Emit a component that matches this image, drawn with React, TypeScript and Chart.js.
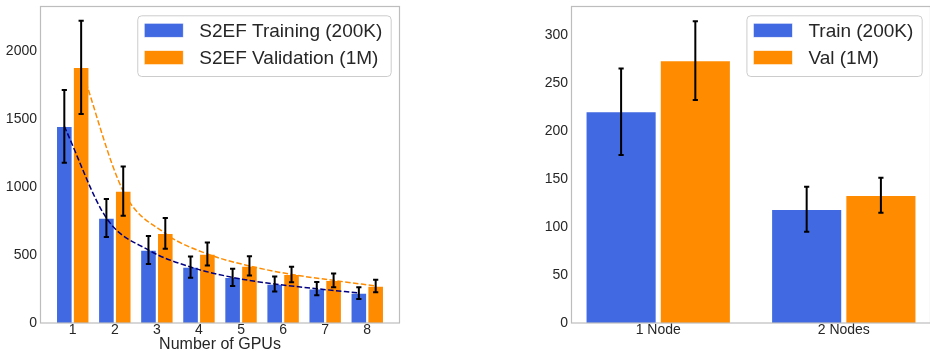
import React, { useEffect, useRef } from "react";
import { Chart, registerables } from "chart.js";

Chart.register(...registerables);

// ---- data: left panel (S2EF throughput vs number of GPUs)
const gpus = [1, 2, 3, 4, 5, 6, 7, 8];
const trainVals = [1444, 771, 536, 411, 335, 286, 252, 220];
const trainErr = [267, 140, 103, 78, 64, 55, 49, 43];
const valVals = [1877, 969, 658, 507, 419, 357, 313, 272];
const valErr = [343, 181, 113, 85, 71, 57, 50, 46];
const leftYTicks = [0, 500, 1000, 1500, 2000];
const leftLegend = ["S2EF Training (200K)", "S2EF Validation (1M)"];
const leftXTitle = "Number of GPUs";

// ---- data: right panel (nodes)
const nodePos = [1, 2];
const nodeLabels = ["1 Node", "2 Nodes"];
const nodeTrainVals = [220, 118.4];
const nodeTrainErr = [45, 23.5];
const nodeValVals = [273.2, 133];
const nodeValErr = [41, 18.3];
const rightYTicks = [0, 50, 100, 150, 200, 250, 300];
const rightLegend = ["Train (200K)", "Val (1M)"];

const BLUE = "#4169E1";
const ORANGE = "#FF8C00";
const NAVY = "#000080";
const TEXT = "#262626";
const SPINE = "#bdbdbd";
const FONT = "'Liberation Sans', Arial, sans-serif";
const GROUP = 0.8; // fraction of a unit used by a pair of bars
const BAR_OFFSET = GROUP / 4; // center offset of each bar within a pair

const framePlugin = {
  id: "frame",
  afterDatasetsDraw(chart: any) {
    const { ctx, chartArea: a } = chart;
    ctx.save();
    ctx.strokeStyle = SPINE;
    ctx.lineWidth = 1.2;
    ctx.strokeRect(a.left + 0.5, a.top + 0.5, a.right - a.left - 1, a.bottom - a.top - 0.5);
    ctx.restore();
  },
};

const errorBarPlugin = {
  id: "errorBars",
  afterDatasetsDraw(chart: any) {
    const { ctx } = chart;
    const ys = chart.scales.y;
    chart.data.datasets.forEach((ds: any, di: number) => {
      if (!ds.errors) return;
      const meta = chart.getDatasetMeta(di);
      meta.data.forEach((el: any, i: number) => {
        const v = ds.data[i].y;
        const e = ds.errors[i];
        const x = el.x;
        const yTop = ys.getPixelForValue(v + e);
        const yBot = ys.getPixelForValue(v - e);
        ctx.save();
        ctx.strokeStyle = "#000";
        ctx.lineWidth = 2;
        ctx.beginPath();
        ctx.moveTo(x, yBot);
        ctx.lineTo(x, yTop);
        ctx.moveTo(x - 2.6, yBot);
        ctx.lineTo(x + 2.6, yBot);
        ctx.moveTo(x - 2.6, yTop);
        ctx.lineTo(x + 2.6, yTop);
        ctx.stroke();
        ctx.restore();
      });
    });
  },
};

const boxLegendPlugin = {
  id: "boxLegend",
  afterDraw(chart: any, _args: any, opts: any) {
    const { ctx, chartArea: a } = chart;
    const labels: string[] = opts.labels || [];
    const colors: string[] = opts.colors || [];
    ctx.save();
    ctx.font = `19px ${FONT}`;
    const maxW = Math.max(...labels.map((t) => ctx.measureText(t).width));
    const w = 7 + 39 + 16 + maxW + 8.4;
    const h = 60.7;
    const right = a.right - 9.3;
    const left = right - w;
    const top = a.top + 9.3;
    ctx.beginPath();
    ctx.roundRect(left + 0.5, top + 0.5, w, h, 4);
    ctx.fillStyle = "rgba(255,255,255,0.8)";
    ctx.fill();
    ctx.strokeStyle = "#cccccc";
    ctx.lineWidth = 1;
    ctx.stroke();
    labels.forEach((t, i) => {
      const cy = top + 15 + i * 27.3;
      ctx.fillStyle = colors[i];
      ctx.fillRect(left + 7, cy - 7, 39, 14);
      ctx.strokeStyle = "rgba(255,255,255,0.8)";
      ctx.lineWidth = 0.7;
      ctx.strokeRect(left + 7, cy - 7, 39, 14);
      ctx.fillStyle = TEXT;
      ctx.textBaseline = "middle";
      ctx.textAlign = "left";
      ctx.fillText(t, left + 7 + 39 + 16, cy + 1);
    });
    ctx.restore();
  },
};

function barDs(label: string, xs: number[], vals: number[], errs: number[], color: string) {
  return {
    type: "bar",
    label,
    data: xs.map((x, i) => ({ x, y: vals[i] })),
    backgroundColor: color,
    borderColor: "rgba(255,255,255,0.85)",
    borderWidth: 0.7,
    categoryPercentage: GROUP,
    barPercentage: 0.95,
    errors: errs,
    order: 1,
  };
}

function lineDs(xs: number[], vals: number[], offset: number, color: string) {
  return {
    type: "line",
    data: xs.map((x, i) => ({ x: x + offset, y: vals[i] })),
    borderColor: color,
    borderWidth: 1.5,
    borderDash: [5.5, 2.4],
    pointRadius: 0,
    fill: false,
    cubicInterpolationMode: "monotone",
    order: 0,
  };
}

function yScale(max: number, ticks: number[]) {
  return {
    type: "linear",
    min: 0,
    max,
    grid: { display: false, drawTicks: false },
    border: { display: false },
    afterBuildTicks: (s: any) => {
      s.ticks = ticks.map((v) => ({ value: v }));
    },
    ticks: {
      font: { family: FONT, size: 14 },
      color: TEXT,
      padding: 3,
      callback: (v: number) => String(v),
    },
    afterFit: (s: any) => {
      s.width = 40;
      s.paddingTop = 0;
      s.paddingBottom = 0;
    },
  };
}

function xScale(min: number, max: number, ticks: number[], labels: string[] | null, title: string | null) {
  return {
    type: "linear",
    min,
    max,
    offset: false,
    grid: { display: false, drawTicks: false },
    border: { display: false },
    afterBuildTicks: (s: any) => {
      s.ticks = ticks.map((v) => ({ value: v }));
    },
    ticks: {
      font: { family: FONT, size: 14, lineHeight: 1 },
      color: TEXT,
      padding: 0,
      autoSkip: false,
      maxRotation: 0,
      callback: (v: number) => (labels ? labels[ticks.indexOf(v)] : String(v)),
    },
    title: title
      ? {
          display: true,
          text: title,
          font: { family: FONT, size: 16, lineHeight: 1 },
          color: TEXT,
          padding: { top: 0, bottom: -2 },
        }
      : { display: false },
    afterFit: (s: any) => {
      s.height = 28;
      s.paddingLeft = 0;
      s.paddingRight = 0;
    },
  };
}

export default function App() {
  const leftRef = useRef<HTMLCanvasElement>(null);
  const rightRef = useRef<HTMLCanvasElement>(null);

  useEffect(() => {
    Chart.defaults.font.family = FONT;
    Chart.defaults.color = TEXT;

    const left = new Chart(leftRef.current as HTMLCanvasElement, {
      type: "bar",
      data: {
        datasets: [
          barDs(leftLegend[0], gpus, trainVals, trainErr, BLUE),
          barDs(leftLegend[1], gpus, valVals, valErr, ORANGE),
          lineDs(gpus, trainVals, -BAR_OFFSET, NAVY),
          lineDs(gpus, valVals, BAR_OFFSET, ORANGE),
        ] as any,
      },
      options: {
        responsive: false,
        animation: false,
        events: [],
        layout: { padding: { top: 6, right: 2, left: 0, bottom: 0 } },
        scales: {
          x: xScale(0.222, 8.778, gpus, null, leftXTitle),
          y: yScale(2328, leftYTicks),
        } as any,
        plugins: {
          legend: { display: false },
          tooltip: { enabled: false },
          boxLegend: { labels: leftLegend, colors: [BLUE, ORANGE] },
        } as any,
      },
      plugins: [framePlugin, errorBarPlugin, boxLegendPlugin],
    });

    const right = new Chart(rightRef.current as HTMLCanvasElement, {
      type: "bar",
      data: {
        datasets: [
          barDs(rightLegend[0], nodePos, nodeTrainVals, nodeTrainErr, BLUE),
          barDs(rightLegend[1], nodePos, nodeValVals, nodeValErr, ORANGE),
        ] as any,
      },
      options: {
        responsive: false,
        animation: false,
        events: [],
        layout: { padding: { top: 6, right: 0, left: 0, bottom: 0 } },
        scales: {
          x: xScale(0.53, 2.47, nodePos, nodeLabels, null),
          y: yScale(330, rightYTicks),
        } as any,
        plugins: {
          legend: { display: false },
          tooltip: { enabled: false },
          boxLegend: { labels: rightLegend, colors: [BLUE, ORANGE] },
        } as any,
      },
      plugins: [framePlugin, errorBarPlugin, boxLegendPlugin],
    });

    return () => {
      left.destroy();
      right.destroy();
    };
  }, []);

  return (
    <div
      style={{
        position: "fixed",
        left: 0,
        top: 0,
        width: 930,
        height: 351,
        overflow: "hidden",
        background: "#fff",
      }}
    >
      <canvas ref={leftRef} width={402} height={351} style={{ position: "absolute", left: 0, top: 0 }} />
      <canvas ref={rightRef} width={400} height={351} style={{ position: "absolute", left: 531, top: 0 }} />
    </div>
  );
}
